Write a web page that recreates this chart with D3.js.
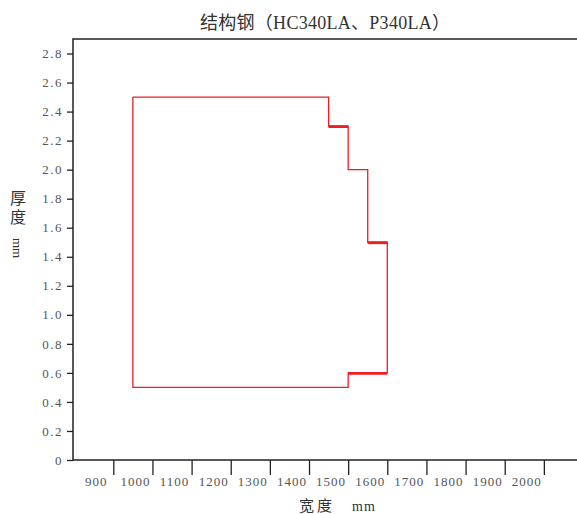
<!DOCTYPE html>
<html>
<head>
<meta charset="utf-8">
<script src="https://cdn.jsdelivr.net/npm/d3@7"></script>
<style>
body { margin: 0; background: #fff; }
text { font-family: "Liberation Serif", "Noto Sans CJK SC", serif; }
</style>
</head>
<body>
<div id="chart"></div>
<script>
var w = 577;
var h = 514;

// 宽度 / 厚度 outline of the size range
var outlineWidth = [1000, 1500, 1500, 1550, 1550, 1600, 1600, 1650, 1650, 1550, 1550, 1000, 1000];
var outlineThick = [2.5, 2.5, 2.3, 2.3, 2.0, 2.0, 1.5, 1.5, 0.6, 0.6, 0.5, 0.5, 2.5];
// overlapping step segments (drawn heavier in the original)
var stepFrom = [1500, 1600, 1550];
var stepTo = [1550, 1650, 1650];
var stepThick = [2.3, 1.5, 0.6];

var xLabels = [900, 1000, 1100, 1200, 1300, 1400, 1500, 1600, 1700, 1800, 1900, 2000];
var xTickMarks = [950, 1050, 1150, 1250, 1350, 1450, 1550, 1650, 1750, 1850, 1950, 2050];
var yTicks = [0, 0.2, 0.4, 0.6, 0.8, 1.0, 1.2, 1.4, 1.6, 1.8, 2.0, 2.2, 2.4, 2.6, 2.8];

var padL = 73, padT = 39, padB = 460;

var x = d3.scaleLinear().domain([847, 2150]).range([padL, 583]);
var y = d3.scaleLinear().domain([0, 2.9]).range([padB, padT]);

var svg = d3.select("#chart")
            .append("svg")
            .attr("width", w)
            .attr("height", h);

// title
svg.append("text")
   .attr("x", 200)
   .attr("y", 29)
   .attr("font-size", 18)
   .attr("fill", "#333")
   .attr("textLength", 250)
   .attr("lengthAdjust", "spacing")
   .text("结构钢（HC340LA、P340LA）");

// y axis
var yAxis = svg.append("g")
   .attr("transform", "translate(" + padL + ",0)")
   .call(d3.axisLeft(y).tickValues(yTicks).tickSize(6).tickPadding(4)
          .tickFormat(function(d) { return d === 0 ? "0" : d3.format(".1f")(d); }));
yAxis.select(".domain").remove();
yAxis.selectAll("line").attr("stroke", "#222").attr("stroke-width", 1.3);
yAxis.selectAll("text").attr("font-size", 13).attr("fill", "#555")
     .attr("font-family", "Liberation Serif").style("letter-spacing", "1.5px");

// x tick marks (between labels)
var xMarks = svg.append("g")
   .attr("transform", "translate(0," + padB + ")")
   .call(d3.axisBottom(x).tickValues(xTickMarks).tickSize(15).tickFormat(""));
xMarks.select(".domain").remove();
xMarks.selectAll("line").attr("stroke", "#222").attr("stroke-width", 1.3);

// x labels
var xLab = svg.append("g")
   .attr("transform", "translate(2," + padB + ")")
   .call(d3.axisBottom(x).tickValues(xLabels).tickSize(0).tickPadding(17)
          .tickFormat(d3.format("d")));
xLab.select(".domain").remove();
xLab.selectAll("text").attr("font-size", 13).attr("fill", "#555")
    .attr("font-family", "Liberation Serif").style("letter-spacing", "1px");

// frame
svg.append("path")
   .attr("d", "M" + w + "," + padT + "H" + padL + "V" + padB + "H" + w)
   .attr("fill", "none")
   .attr("stroke", "#222")
   .attr("stroke-width", 1.5);

// outline
var line = d3.line()
   .x(function(d) { return x(d[0]); })
   .y(function(d) { return y(d[1]); });

svg.append("path")
   .datum(d3.zip(outlineWidth, outlineThick))
   .attr("d", line)
   .attr("fill", "none")
   .attr("stroke", "#ee1c25")
   .attr("stroke-width", 1.3);

svg.selectAll(".step")
   .data(d3.range(stepFrom.length))
   .enter()
   .append("line")
   .attr("class", "step")
   .attr("x1", function(i) { return x(stepFrom[i]); })
   .attr("x2", function(i) { return x(stepTo[i]); })
   .attr("y1", function(i) { return y(stepThick[i]) + 0.5; })
   .attr("y2", function(i) { return y(stepThick[i]) + 0.5; })
   .attr("stroke", "#ee1c25")
   .attr("stroke-width", 2.8);

// axis titles
svg.append("text").attr("x", 18).attr("y", 204).attr("text-anchor", "middle")
   .attr("font-size", 16).attr("fill", "#333").text("厚");
svg.append("text").attr("x", 18).attr("y", 223).attr("text-anchor", "middle")
   .attr("font-size", 16).attr("fill", "#333").text("度");
svg.append("text").attr("transform", "translate(13,248) rotate(90)")
   .attr("text-anchor", "middle").attr("font-size", 13).attr("fill", "#333").text("mm");

svg.append("text").attr("x", 299).attr("y", 511)
   .attr("font-size", 15).attr("fill", "#333").style("letter-spacing", "3px").text("宽度");
svg.append("text").attr("x", 352).attr("y", 511)
   .attr("font-size", 14).attr("fill", "#333").style("letter-spacing", "1px").text("mm");
</script>
</body>
</html>
